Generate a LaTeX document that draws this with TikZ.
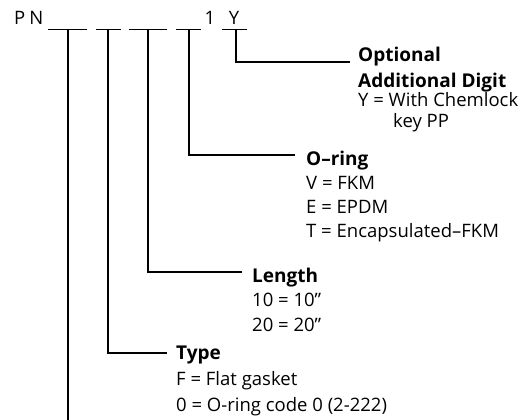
\documentclass[tikz,border=0pt]{standalone}
\usepackage{fontspec}
\setmainfont{Open Sans}
\begin{document}
\begin{tikzpicture}[x=1pt,y=-1pt,
  line/.style={line width=1.4pt},
  head/.style={anchor=base west,inner sep=0pt,font=\fontsize{19}{22}\selectfont\bfseries},
  item/.style={anchor=base west,inner sep=0pt,font=\fontsize{18.5}{22}\selectfont},
  code/.style={anchor=base,inner sep=0pt,font=\fontsize{18.5}{22}\selectfont}]
\useasboundingbox (0,0) rectangle (530,420);
% code letters
\node[code,anchor=base west] (pn) at (14,25) {P\kern4ptN};
\node[code] (one) at (210,25) {1};
\node[code] (y) at (234,25) {Y};
% digit placeholders
\coordinate (d1a) at (48,29.5); \coordinate (d1b) at (87,29.5); \coordinate (d1) at (68,29.5);
\coordinate (d2a) at (96,29.5); \coordinate (d2b) at (121,29.5); \coordinate (d2) at (108,29.5);
\coordinate (d3a) at (129,29.5); \coordinate (d3b) at (167,29.5); \coordinate (d3) at (148,29.5);
\coordinate (d4a) at (176,29.5); \coordinate (d4b) at (201,29.5); \coordinate (d4) at (189,29.5);
\coordinate (d5a) at (222,29.5); \coordinate (d5b) at (247,29.5); \coordinate (d5) at (236,29.5);
\foreach \i in {1,...,5} {\draw[line] (d\i a) -- (d\i b);}
% line ends
\coordinate (e5) at (350,62);
\coordinate (e4) at (295,155);
\coordinate (e3) at (242,272);
\coordinate (e2) at (167,353);
\coordinate (e1) at (68,420);
% labels
\node[head] (opt) at (358,62) {Optional};
\node[head] (opt2) at (358,87) {Additional Digit};
\node[item] (opt3) at (358,106) {Y = With Chemlock};
\node[item] (opt4) at (393,127) {key PP};
\node[head] (or) at (306,165) {O–ring};
\node[item] (or1) at (306,189) {V = FKM};
\node[item] (or2) at (306,213) {E = EPDM};
\node[item] (or3) at (306,237) {T = Encapsulated–FKM};
\node[head] (len) at (252,282) {Length};
\node[item] (len1) at (252,306) {10 = 10"};
\node[item] (len2) at (252,331) {20 = 20"};
\node[head] (typ) at (176,359) {Type};
\node[item] (typ1) at (176,385) {F = Flat gasket};
\node[item] (typ2) at (176,411) {0 = O-ring code 0 (2-222)};
% connectors
\draw[line] (d5) |- (e5);
\draw[line] (d4) |- (e4);
\draw[line] (d3) |- (e3);
\draw[line] (d2) |- (e2);
\draw[line] (d1) -- (e1);
\end{tikzpicture}
\end{document}
